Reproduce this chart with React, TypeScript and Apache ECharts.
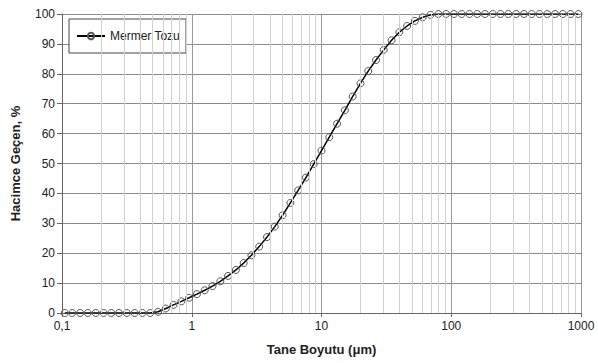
import React, { useEffect, useRef } from "react";
import * as echarts from "echarts";

const sizes = [
  0.105, 0.12, 0.138, 0.158, 0.182, 0.209, 0.24, 0.275, 0.316, 0.363, 0.417, 0.479,
  0.55, 0.631, 0.724, 0.832, 0.955, 1.096, 1.259, 1.445, 1.66, 1.905, 2.188, 2.512,
  2.884, 3.311, 3.802, 4.365, 5.012, 5.754, 6.607, 7.586, 8.71, 10.0, 11.482, 13.183,
  15.136, 17.378, 19.953, 22.909, 26.303, 30.2, 34.674, 39.811, 45.709, 52.481, 60.256,
  69.183, 79.433, 91.201, 104.713, 120.226, 138.038, 158.489, 181.97, 208.93, 239.883,
  275.423, 316.228, 363.078, 416.869, 478.63, 549.541, 630.957, 724.436, 831.764, 954.993,
];

const passing = [
  0, 0, 0, 0, 0, 0, 0, 0, 0, 0, 0, 0,
  0.4, 1.5, 2.7, 3.9, 5.1, 6.3, 7.6, 9.0, 10.6, 12.4,
  14.4, 16.7, 19.3, 22.2, 25.4, 28.9, 32.7, 36.8, 41.0, 45.3,
  49.8, 54.3, 58.8, 63.3, 67.8, 72.4, 76.8, 80.9, 84.6, 88.0,
  91.2, 93.9, 96.0, 97.7, 98.9, 99.7,
  100, 100, 100, 100, 100, 100, 100, 100, 100, 100, 100, 100, 100, 100, 100, 100, 100, 100, 100,
];

const seriesName = "Mermer Tozu";
const xName = "Tane Boyutu (μm)";
const yName = "Hacimce Geçen, %";
const decades = [0.1, 1, 10, 100];
const minorMultipliers = [2, 3, 4, 5, 6, 7, 8, 9];
const minorTicks = decades.flatMap((d) => minorMultipliers.map((m) => m * d));

const FONT = "Liberation Sans, Arial, sans-serif";

export default function App() {
  const ref = useRef<HTMLDivElement>(null);
  useEffect(() => {
    if (!ref.current) return;
    const chart = echarts.init(ref.current, null, { renderer: "svg" });
    chart.setOption({
      animation: false,
      textStyle: { fontFamily: FONT },
      grid: { left: 62, right: 17, top: 14, bottom: 50, containLabel: false },
      legend: {
        data: [seriesName],
        left: 69,
        top: 19,
        orient: "vertical",
        backgroundColor: "#fff",
        borderColor: "#444",
        borderWidth: 1,
        borderRadius: 0,
        padding: [11, 6, 11, 7],
        itemWidth: 28,
        itemHeight: 8,
        itemGap: 5,
        textStyle: { fontFamily: FONT, fontSize: 12, color: "#222" },
      },
      xAxis: {
        type: "log",
        logBase: 10,
        min: 0.1,
        max: 1000,
        name: xName,
        nameLocation: "middle",
        nameGap: 30,
        nameTextStyle: { fontFamily: FONT, fontSize: 13, fontWeight: "bold", color: "#222" },
        axisLine: { show: true, lineStyle: { color: "#666", width: 1 } },
        axisTick: { show: true, length: 4, lineStyle: { color: "#666" } },
        axisLabel: {
          fontFamily: FONT,
          fontSize: 12,
          color: "#222",
          margin: 7,
          formatter: (v: number) => String(v).replace(".", ","),
        },
        splitLine: { show: true, lineStyle: { color: "#999", width: 1 } },
      },
      yAxis: {
        type: "value",
        min: 0,
        max: 100,
        interval: 10,
        name: yName,
        nameLocation: "middle",
        nameGap: 40,
        nameTextStyle: { fontFamily: FONT, fontSize: 13, fontWeight: "bold", color: "#222" },
        axisLine: { show: true, lineStyle: { color: "#666", width: 1 } },
        axisTick: { show: true, length: 5, lineStyle: { color: "#666" } },
        axisLabel: { fontFamily: FONT, fontSize: 12, color: "#222", margin: 7 },
        splitLine: { show: true, lineStyle: { color: "#8c8c8c", width: 1 } },
      },
      series: [
        {
          name: "minorGrid",
          type: "line",
          data: [],
          z: 1,
          silent: true,
          markLine: {
            silent: true,
            symbol: ["none", "none"],
            label: { show: false },
            lineStyle: { color: "#d2d2d2", type: "solid", width: 1 },
            emphasis: { disabled: true },
            data: minorTicks.map((v) => ({ xAxis: v })),
          },
        },
        {
          name: seriesName,
          type: "line",
          z: 3,
          data: sizes.map((s, i) => [s, passing[i]]),
          symbol: "circle",
          symbolSize: 7,
          showAllSymbol: true,
          lineStyle: { color: "#000", width: 1.5 },
          itemStyle: { color: "rgba(255,255,255,0)", borderColor: "#555", borderWidth: 1 },
        },
      ],
    });
    return () => chart.dispose();
  }, []);
  return (
    <div
      ref={ref}
      style={{ position: "absolute", left: 0, top: 0, width: 598, height: 363 }}
    />
  );
}
